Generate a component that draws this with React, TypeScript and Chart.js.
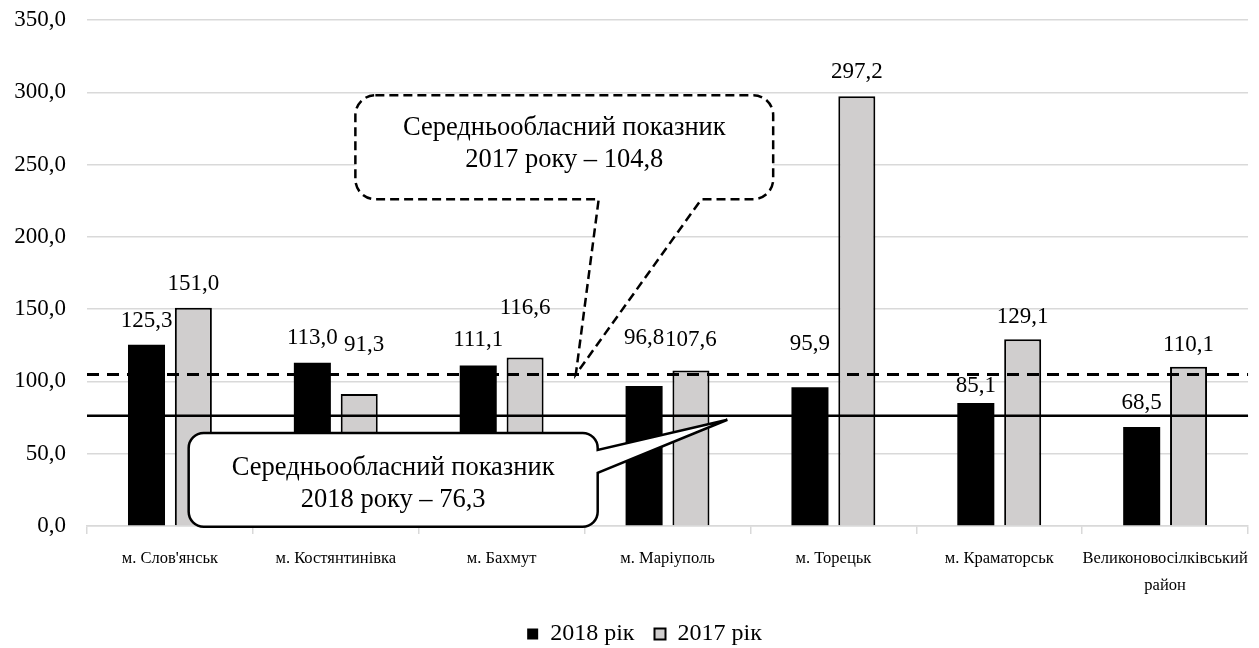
import React, { useEffect, useRef } from "react";
import { Chart, registerables } from "chart.js";

Chart.register(...registerables);

// ---- data ----
const categories: (string | string[])[] = [
  "м. Слов'янськ",
  "м. Костянтинівка",
  "м. Бахмут",
  "м. Маріуполь",
  "м. Торецьк",
  "м. Краматорськ",
  ["Великоновосілківський", "район"],
];
const values2018 = [125.3, 113.0, 111.1, 96.8, 95.9, 85.1, 68.5];
const values2017 = [151.0, 91.3, 116.6, 107.6, 297.2, 129.1, 110.1];
const seriesNames = ["2018 рік", "2017 рік"];
const avg2017 = 104.8;
const avg2018 = 76.3;
const yMin = 0;
const yMax = 350;
const yStep = 50;

const FONT = "'Liberation Serif', 'Times New Roman', serif";
const PLOT_BOTTOM = 526;
const GRID = "#d9d9d9";

const fmt = (v: number) => v.toFixed(1).replace(".", ",");

// extra vertical lift / horizontal shift of individual value labels (px)
const labelLift = [
  [0, 1, 1, 24, 19, -7, 0],
  [0, 25, 25, 6, 0, -2, -2],
];
const labelShift = [
  [0, 0, 0, 0, 0, 0, 0],
  [0, 5, 0, 0, 0, 0, 0],
];

const valueLabels = {
  id: "valueLabels",
  afterDatasetsDraw(chart: any) {
    const ctx = chart.ctx;
    ctx.save();
    ctx.font = `23px ${FONT}`;
    ctx.fillStyle = "#000";
    ctx.textAlign = "center";
    ctx.textBaseline = "middle";
    chart.data.datasets.forEach((ds: any, di: number) => {
      const meta = chart.getDatasetMeta(di);
      meta.data.forEach((bar: any, i: number) => {
        ctx.fillText(
          fmt(ds.data[i]),
          bar.x + labelShift[di][i],
          bar.y - 24 - labelLift[di][i]
        );
      });
    });
    ctx.restore();
  },
};

// regional average lines with their call-out boxes
const averages = {
  id: "averages",
  afterDatasetsDraw(chart: any) {
    const { ctx, chartArea } = chart;
    const xs = chart.scales.x;
    const ys = chart.scales.y;
    const px = (v: number) => xs.getPixelForValue(v);
    const py = (v: number) => ys.getPixelForValue(v);

    ctx.save();
    ctx.strokeStyle = "#000";
    // 2017 average: dashed
    ctx.lineWidth = 3;
    ctx.setLineDash([12, 8]);
    ctx.beginPath();
    ctx.moveTo(chartArea.left, py(avg2017));
    ctx.lineTo(chartArea.right, py(avg2017));
    ctx.stroke();
    // 2018 average: solid
    ctx.setLineDash([]);
    ctx.lineWidth = 2.5;
    ctx.beginPath();
    ctx.moveTo(chartArea.left, py(avg2018));
    ctx.lineTo(chartArea.right, py(avg2018));
    ctx.stroke();

    const drawText = (lines: string[], cx: number, cy: number) => {
      ctx.fillStyle = "#000";
      ctx.font = `26.5px ${FONT}`;
      ctx.textAlign = "center";
      ctx.textBaseline = "middle";
      const lh = 32;
      lines.forEach((t, k) => {
        ctx.fillText(t, cx, cy + (k - (lines.length - 1) / 2) * lh);
      });
    };

    // dashed call-out, pointer from the bottom edge
    {
      const L = px(1.118), R = px(3.637), T = py(298), B = py(226), r = 20;
      const b1 = px(3.204), b2 = px(2.585);
      const tx = px(2.447), ty = py(avg2017);
      ctx.beginPath();
      ctx.moveTo(L + r, T);
      ctx.lineTo(R - r, T);
      ctx.arcTo(R, T, R, T + r, r);
      ctx.lineTo(R, B - r);
      ctx.arcTo(R, B, R - r, B, r);
      ctx.lineTo(b1, B);
      ctx.lineTo(tx, ty);
      ctx.lineTo(b2, B);
      ctx.lineTo(L + r, B);
      ctx.arcTo(L, B, L, B - r, r);
      ctx.lineTo(L, T + r);
      ctx.arcTo(L, T, L + r, T, r);
      ctx.closePath();
      ctx.fillStyle = "#fff";
      ctx.fill();
      ctx.setLineDash([9, 5]);
      ctx.lineWidth = 2.5;
      ctx.stroke();
      ctx.setLineDash([]);
      drawText(
        ["Середньообласний показник", `2017 року – ${fmt(avg2017)}`],
        (L + R) / 2,
        (T + B) / 2 - 3
      );
    }

    // solid call-out, pointer from the right edge
    {
      const L = px(0.113), R = px(2.579), T = py(64.3), B = py(-0.5), r = 15;
      const b1 = py(52.6), b2 = py(36.7);
      const tx = px(3.361), ty = py(73.5);
      ctx.beginPath();
      ctx.moveTo(L + r, T);
      ctx.lineTo(R - r, T);
      ctx.arcTo(R, T, R, T + r, r);
      ctx.lineTo(R, b1);
      ctx.lineTo(tx, ty);
      ctx.lineTo(R, b2);
      ctx.lineTo(R, B - r);
      ctx.arcTo(R, B, R - r, B, r);
      ctx.lineTo(L + r, B);
      ctx.arcTo(L, B, L, B - r, r);
      ctx.lineTo(L, T + r);
      ctx.arcTo(L, T, L + r, T, r);
      ctx.closePath();
      ctx.fillStyle = "#fff";
      ctx.fill();
      ctx.lineWidth = 2.5;
      ctx.lineJoin = "miter";
      ctx.stroke();
      drawText(
        ["Середньообласний показник", `2018 року – ${fmt(avg2018)}`],
        (L + R) / 2,
        (T + B) / 2 + 4
      );
    }
    ctx.restore();
  },
};

// nudges the bottom legend into place once the layout is settled
const legendPlacement = {
  id: "legendPlacement",
  afterLayout(chart: any) {
    const lg = chart.legend;
    if (!lg) return;
    const dy = 602 - lg.top;
    lg.top += dy;
    lg.bottom += dy;
    lg.left += 17;
    lg.right += 17;
  },
};

export default function App() {
  const canvasRef = useRef<HTMLCanvasElement | null>(null);

  useEffect(() => {
    if (!canvasRef.current) return;
    Chart.defaults.font.family = FONT;
    const chart = new Chart(canvasRef.current, {
      type: "bar",
      data: {
        labels: categories,
        datasets: [
          {
            label: seriesNames[0],
            data: values2018,
            backgroundColor: "#000000",
            borderColor: "#000000",
            borderWidth: 0,
            categoryPercentage: 0.565,
            barPercentage: 0.79,
          },
          {
            label: seriesNames[1],
            data: values2017,
            backgroundColor: "#d0cece",
            borderColor: "#000000",
            borderWidth: 2,
            categoryPercentage: 0.565,
            barPercentage: 0.79,
          },
        ],
      },
      options: {
        animation: false,
        responsive: true,
        maintainAspectRatio: false,
        devicePixelRatio: 1,
        layout: { padding: { top: 20, right: 4, left: 0, bottom: 0 } },
        plugins: {
          legend: {
            position: "bottom",
            labels: {
              font: { size: 24, family: FONT },
              color: "#000",
              boxWidth: 11,
              boxHeight: 11,
              padding: 20,
            },
          },
          tooltip: { enabled: false },
        },
        scales: {
          x: {
            offset: true,
            grid: {
              offset: true,
              drawOnChartArea: false,
              drawTicks: true,
              tickLength: 8,
              color: GRID,
              lineWidth: 1.5,
            },
            border: { display: true, color: GRID, width: 1.5 },
            ticks: {
              font: { size: 16.5, family: FONT, lineHeight: 1.65 },
              color: "#000",
              padding: 11,
              maxRotation: 0,
              autoSkip: false,
            },
            afterFit(scale: any) {
              const lg = scale.chart.legend;
              scale.height = scale.chart.height - PLOT_BOTTOM - (lg ? lg.height : 0);
            },
          },
          y: {
            min: yMin,
            max: yMax,
            grid: {
              color: GRID,
              lineWidth: 1.5,
              drawTicks: true,
              tickLength: 21,
              tickColor: "rgba(0,0,0,0)",
            },
            border: { display: false },
            ticks: {
              stepSize: yStep,
              padding: 0,
              font: { size: 23, family: FONT },
              color: "#000",
              callback: (v: any) => fmt(Number(v)),
            },
            afterFit(scale: any) {
              scale.width = 87;
            },
          },
        },
      },
      plugins: [valueLabels, averages, legendPlacement],
    });
    return () => chart.destroy();
  }, []);

  return (
    <div
      style={{
        position: "fixed",
        left: 0,
        top: 0,
        width: 1259,
        height: 648,
        background: "#fff",
      }}
    >
      <canvas ref={canvasRef} />
    </div>
  );
}
